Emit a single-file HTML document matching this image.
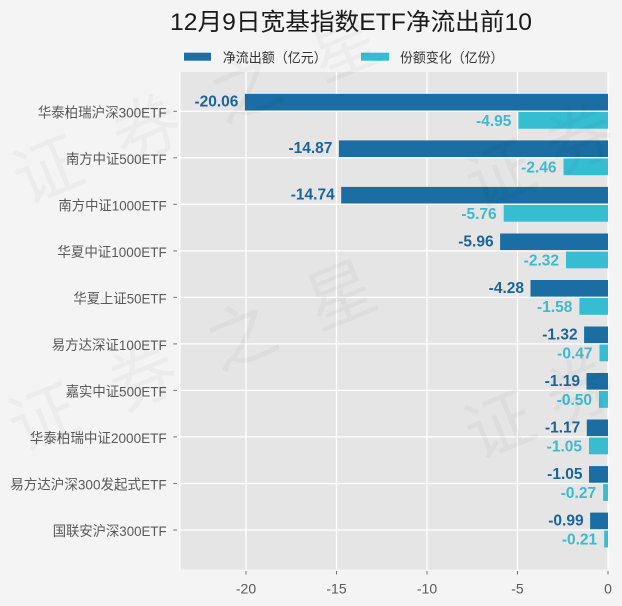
<!DOCTYPE html>
<html><head><meta charset="utf-8"><style>
html,body{margin:0;padding:0;background:#f4f4f4;width:622px;height:606px;overflow:hidden;}
svg{display:block;overflow:hidden;}
text{font-family:"Liberation Sans","Noto Sans CJK SC",sans-serif;}
</style></head><body>
<svg width="622" height="606" viewBox="0 0 622 606" xmlns="http://www.w3.org/2000/svg">
<rect x="0" y="0" width="622" height="606" fill="#f4f4f4"/>
<!-- title -->
<text x="170" y="30" font-size="24" fill="#1a1a1a" textLength="362" lengthAdjust="spacingAndGlyphs">12月9日宽基指数ETF净流出前10</text>
<!-- legend -->
<rect x="184" y="52.7" width="27" height="8" fill="#1a6ea3"/>
<text x="222.7" y="62.5" font-size="13.5" fill="#333" textLength="104" lengthAdjust="spacingAndGlyphs">净流出额（亿元）</text>
<rect x="361" y="52.7" width="28" height="8" fill="#36bdd2"/>
<text x="400" y="62.5" font-size="13.5" fill="#333" textLength="103.5" lengthAdjust="spacingAndGlyphs">份额变化（亿份）</text>
<!-- plot bg -->
<rect x="179.3" y="72" width="428.7" height="497.5" fill="#e5e5e5"/>
<!-- grid -->
<g stroke="#ffffff" stroke-width="1.3">
<line x1="179.8" y1="72" x2="179.8" y2="569.5"/>
<line x1="246" y1="72" x2="246" y2="569.5"/>
<line x1="336.5" y1="72" x2="336.5" y2="569.5"/>
<line x1="427" y1="72" x2="427" y2="569.5"/>
<line x1="517.5" y1="72" x2="517.5" y2="569.5"/>
<line x1="608" y1="72" x2="608" y2="569.5"/>
<line x1="179.3" y1="111.3" x2="608" y2="111.3"/>
<line x1="179.3" y1="157.8" x2="608" y2="157.8"/>
<line x1="179.3" y1="204.3" x2="608" y2="204.3"/>
<line x1="179.3" y1="250.9" x2="608" y2="250.9"/>
<line x1="179.3" y1="297.4" x2="608" y2="297.4"/>
<line x1="179.3" y1="343.9" x2="608" y2="343.9"/>
<line x1="179.3" y1="390.4" x2="608" y2="390.4"/>
<line x1="179.3" y1="436.9" x2="608" y2="436.9"/>
<line x1="179.3" y1="483.5" x2="608" y2="483.5"/>
<line x1="179.3" y1="530.0" x2="608" y2="530.0"/>
</g>
<!-- dark bars -->
<g fill="#1a6ea3">
<rect x="244.9" y="93.9" width="363.1" height="16.6"/>
<rect x="338.9" y="140.4" width="269.1" height="16.6"/>
<rect x="341.2" y="186.9" width="266.8" height="16.6"/>
<rect x="500.1" y="233.5" width="107.9" height="16.6"/>
<rect x="530.5" y="280.0" width="77.5" height="16.6"/>
<rect x="584.1" y="326.5" width="23.9" height="16.6"/>
<rect x="586.5" y="373.0" width="21.5" height="16.6"/>
<rect x="586.8" y="419.5" width="21.2" height="16.6"/>
<rect x="589.0" y="466.1" width="19.0" height="16.6"/>
<rect x="590.1" y="512.6" width="17.9" height="16.6"/>
</g>
<!-- light bars -->
<g fill="#36bdd2">
<rect x="518.4" y="111.9" width="89.6" height="16.8"/>
<rect x="563.5" y="158.4" width="44.5" height="16.8"/>
<rect x="503.7" y="204.9" width="104.3" height="16.8"/>
<rect x="566.0" y="251.5" width="42.0" height="16.8"/>
<rect x="579.4" y="298.0" width="28.6" height="16.8"/>
<rect x="599.5" y="344.5" width="8.5" height="16.8"/>
<rect x="599.0" y="391.0" width="9.0" height="16.8"/>
<rect x="589.0" y="437.5" width="19.0" height="16.8"/>
<rect x="603.1" y="484.1" width="4.9" height="16.8"/>
<rect x="604.2" y="530.6" width="3.8" height="16.8"/>
</g>
<!-- dark labels -->
<g fill="#1d6496" font-size="15.5" font-weight="bold" text-anchor="end">
<text x="238.4" y="106.7">-20.06</text>
<text x="332.4" y="153.2">-14.87</text>
<text x="334.7" y="199.7">-14.74</text>
<text x="493.6" y="246.3">-5.96</text>
<text x="524.0" y="292.8">-4.28</text>
<text x="577.6" y="339.3">-1.32</text>
<text x="580.0" y="385.8">-1.19</text>
<text x="580.3" y="432.3">-1.17</text>
<text x="582.5" y="478.9">-1.05</text>
<text x="583.6" y="525.4">-0.99</text>
</g>
<!-- light labels -->
<g fill="#3fb9cd" font-size="15.5" font-weight="bold" text-anchor="end">
<text x="511.4" y="125.8">-4.95</text>
<text x="556.5" y="172.3">-2.46</text>
<text x="496.7" y="218.8">-5.76</text>
<text x="559.0" y="265.4">-2.32</text>
<text x="572.4" y="311.9">-1.58</text>
<text x="592.5" y="358.4">-0.47</text>
<text x="592.0" y="404.9">-0.50</text>
<text x="582.0" y="451.4">-1.05</text>
<text x="596.1" y="498.0">-0.27</text>
<text x="597.2" y="544.5">-0.21</text>
</g>
<!-- ticks -->
<g stroke="#777" stroke-width="1">
<line x1="173.3" y1="111.3" x2="177" y2="111.3"/>
<line x1="173.3" y1="157.8" x2="177" y2="157.8"/>
<line x1="173.3" y1="204.3" x2="177" y2="204.3"/>
<line x1="173.3" y1="250.9" x2="177" y2="250.9"/>
<line x1="173.3" y1="297.4" x2="177" y2="297.4"/>
<line x1="173.3" y1="343.9" x2="177" y2="343.9"/>
<line x1="173.3" y1="390.4" x2="177" y2="390.4"/>
<line x1="173.3" y1="436.9" x2="177" y2="436.9"/>
<line x1="173.3" y1="483.5" x2="177" y2="483.5"/>
<line x1="173.3" y1="530.0" x2="177" y2="530.0"/>
<line x1="246" y1="571" x2="246" y2="574.5"/>
<line x1="336.5" y1="571" x2="336.5" y2="574.5"/>
<line x1="427" y1="571" x2="427" y2="574.5"/>
<line x1="517.5" y1="571" x2="517.5" y2="574.5"/>
<line x1="608" y1="571" x2="608" y2="574.5"/>
</g>
<!-- category labels -->
<g fill="#595959" font-size="14" text-anchor="end">
<text x="166.7" y="117.5" textLength="129" lengthAdjust="spacingAndGlyphs">华泰柏瑞沪深300ETF</text>
<text x="166.7" y="164.0" textLength="100.7" lengthAdjust="spacingAndGlyphs">南方中证500ETF</text>
<text x="166.7" y="210.5" textLength="108.3" lengthAdjust="spacingAndGlyphs">南方中证1000ETF</text>
<text x="166.7" y="257.1" textLength="109.3" lengthAdjust="spacingAndGlyphs">华夏中证1000ETF</text>
<text x="166.7" y="303.6" textLength="93.3" lengthAdjust="spacingAndGlyphs">华夏上证50ETF</text>
<text x="166.7" y="350.1" textLength="115" lengthAdjust="spacingAndGlyphs">易方达深证100ETF</text>
<text x="166.7" y="396.6" textLength="101" lengthAdjust="spacingAndGlyphs">嘉实中证500ETF</text>
<text x="166.7" y="443.1" textLength="137" lengthAdjust="spacingAndGlyphs">华泰柏瑞中证2000ETF</text>
<text x="166.7" y="489.7" textLength="156.5" lengthAdjust="spacingAndGlyphs">易方达沪深300发起式ETF</text>
<text x="166.7" y="536.2" textLength="114" lengthAdjust="spacingAndGlyphs">国联安沪深300ETF</text>
</g>
<!-- x tick labels -->
<g fill="#595959" font-size="14" text-anchor="middle">
<text x="246" y="593.3">-20</text>
<text x="336.5" y="593.3">-15</text>
<text x="427" y="593.3">-10</text>
<text x="517.5" y="593.3">-5</text>
<text x="608" y="593.3">0</text>
</g>
<!-- watermark -->
<g fill="#000" fill-opacity="0.03" font-size="68" text-anchor="middle" dominant-baseline="central" font-family="'Noto Sans CJK SC',sans-serif">
<text transform="translate(48,171) rotate(-22.5)">证</text>
<text transform="translate(147,130) rotate(-22.5)">券</text>
<text transform="translate(246,89) rotate(-22.5)">之</text>
<text transform="translate(345,48) rotate(-22.5)">星</text>
<text transform="translate(500,175) rotate(-22.5)">证</text>
<text transform="translate(580,140) rotate(-22.5)">券</text>
<text transform="translate(44,419) rotate(-22.5)">证</text>
<text transform="translate(143,378) rotate(-22.5)">券</text>
<text transform="translate(242,337) rotate(-22.5)">之</text>
<text transform="translate(341,296) rotate(-22.5)">星</text>
<text transform="translate(500,426) rotate(-22.5)">证</text>
<text transform="translate(580,392) rotate(-22.5)">券</text>
</g>
</svg>
</body></html>
